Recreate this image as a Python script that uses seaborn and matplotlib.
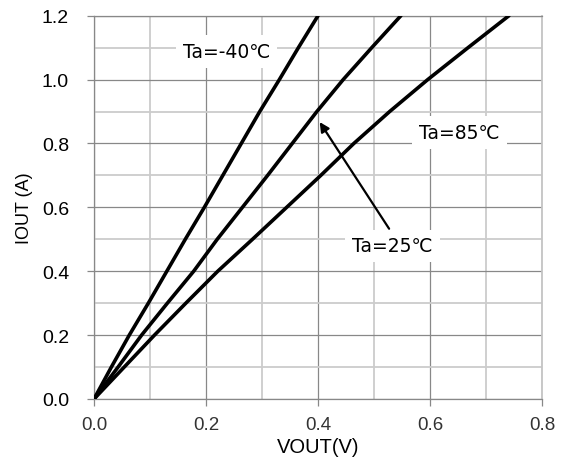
import pandas as pd
import matplotlib.pyplot as plt
import seaborn as sns
from matplotlib.ticker import MultipleLocator

# values, one row per curve point
iout = [0.0, 0.1, 0.2, 0.3, 0.4, 0.5, 0.6, 0.7, 0.8, 0.9, 1.0, 1.1, 1.2]
vout_m40 = [0.0, 0.031, 0.063, 0.097, 0.130, 0.163, 0.197,
            0.230, 0.263, 0.296, 0.331, 0.365, 0.400]
vout_25 = [0.0, 0.043, 0.085, 0.131, 0.178, 0.220, 0.265,
           0.310, 0.354, 0.398, 0.445, 0.496, 0.548]
vout_85 = [0.0, 0.054, 0.108, 0.164, 0.221, 0.283, 0.344,
           0.405, 0.464, 0.528, 0.596, 0.668, 0.741]
temps = ['Ta=-40℃', 'Ta=25℃', 'Ta=85℃']

xticks = [0.0, 0.2, 0.4, 0.6, 0.8]
yticks = [0.0, 0.2, 0.4, 0.6, 0.8, 1.0, 1.2]

df = pd.concat([
    pd.DataFrame({'VOUT': v, 'IOUT': iout, 'Ta': t})
    for v, t in zip([vout_m40, vout_25, vout_85], temps)
])

sns.set_style('white')
plt.rcParams['font.family'] = ['Liberation Sans', 'DejaVu Sans']
plt.rcParams['text.color'] = 'black'
plt.rcParams['axes.labelcolor'] = 'black'

fig = plt.figure(figsize=(5.61, 4.64), dpi=100)
ax = fig.add_axes([0.1676, 0.138, 0.7985, 0.826])

sns.lineplot(data=df, x='VOUT', y='IOUT', hue='Ta', sort=False,
             palette=['black'] * 3, linewidth=2.6, legend=False, ax=ax,
             zorder=3)

ax.set_xlim(0, 0.8)
ax.set_ylim(0, 1.2)
ax.set_xticks(xticks)
ax.set_yticks(yticks)
ax.set_xticklabels([f'{t:.1f}' for t in xticks], fontsize=13.5, color='#333333')
ax.set_yticklabels([f'{t:.1f}' for t in yticks], fontsize=14, color='black')
ax.xaxis.set_minor_locator(MultipleLocator(0.1))
ax.yaxis.set_minor_locator(MultipleLocator(0.1))
ax.grid(which='major', color='#888888', linewidth=0.9, zorder=0)
ax.grid(which='minor', color='#cccccc', linewidth=1.3, zorder=0)
ax.set_axisbelow(True)
ax.tick_params(which='major', length=5, width=0.9, color='#888888',
               direction='out', bottom=True, left=True)
ax.tick_params(axis='y', pad=13)
ax.tick_params(axis='x', pad=7)
ax.tick_params(which='minor', length=0)

for side in ['left', 'bottom', 'top']:
    ax.spines[side].set_color('#888888')
    ax.spines[side].set_linewidth(0.9)
ax.spines['right'].set_color('#c4c4c4')
ax.spines['right'].set_linewidth(1.3)

ax.set_xlabel('VOUT(V)', fontsize=14.5, labelpad=3, color='black')
ax.set_ylabel('IOUT (A)', fontsize=13, labelpad=6, color='black')

box = dict(facecolor='white', edgecolor='none', pad=5)
txt = dict(fontsize=13.5, family=['DejaVu Sans'], ha='center', va='center',
           color='black', bbox=box, zorder=4)
ax.text(0.237, 1.088, temps[0], **txt)
ax.text(0.653, 0.835, temps[2], **txt)
ax.text(0.533, 0.479, temps[1], **txt)
ax.annotate('', xy=(0.403, 0.867), xytext=(0.527, 0.533),
            arrowprops=dict(arrowstyle='-|>', color='black', lw=1.6,
                            mutation_scale=14, shrinkA=0, shrinkB=0),
            zorder=5)

fig.savefig('out.png', dpi=100)
